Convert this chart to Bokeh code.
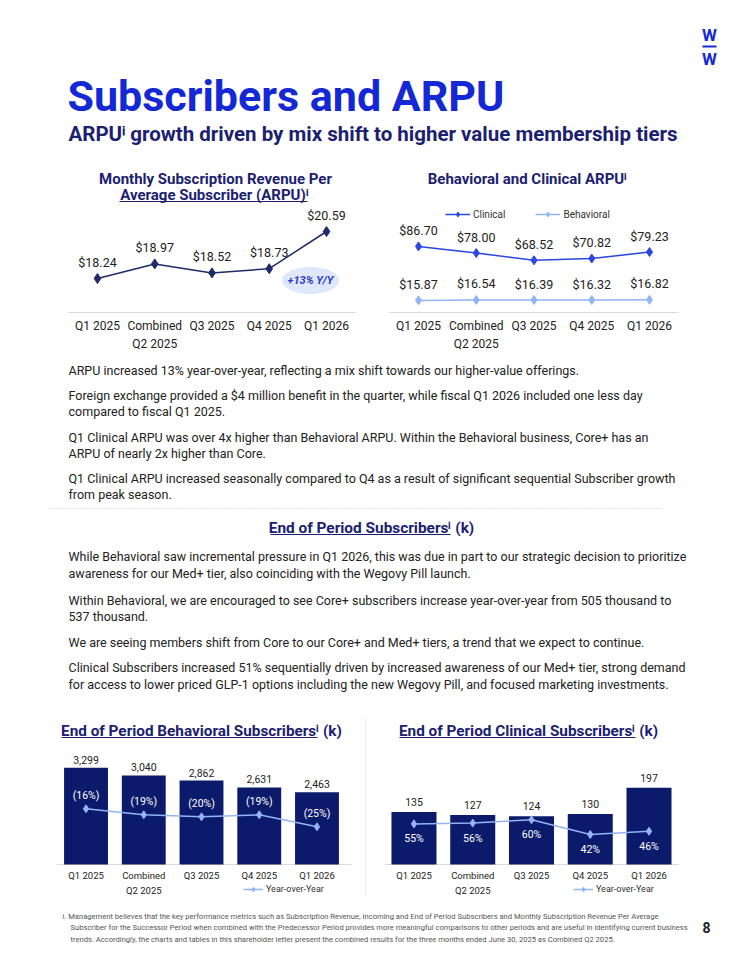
from bokeh.plotting import figure
from bokeh.layouts import column, row
from bokeh.models import Range1d, FixedTicker, Legend, LegendItem
from bokeh.core.properties import value
from bokeh.embed import file_html
from bokeh.resources import INLINE

FONT = "Roboto"
NAVY = "#1b2170"
BLUE = "#1428d6"
BAR = "#0c1a6b"
TXT = "#222222"
CLIN = "#2a46e0"
LIGHT = "#93b4f7"
LINE_NAVY = "#1f2a6b"

# ---------------- data ----------------
quarters = ["Q1 2025", "Combined\nQ2 2025", "Q3 2025", "Q4 2025", "Q1 2026"]
arpu = [18.24, 18.97, 18.52, 18.73, 20.59]
clinical_arpu = [86.70, 78.00, 68.52, 70.82, 79.23]
behavioral_arpu = [15.87, 16.54, 16.39, 16.32, 16.82]
behavioral_subs = [3299, 3040, 2862, 2631, 2463]
behavioral_yoy = [-16, -19, -20, -19, -25]
clinical_subs = [135, 127, 124, 130, 197]
clinical_yoy = [55, 56, 60, 42, 46]

idx = list(range(len(quarters)))

body1 = [
    "ARPU increased 13% year-over-year, reflecting a mix shift towards our higher-value offerings.",
    "Foreign exchange provided a $4 million benefit in the quarter, while fiscal Q1 2026 included one less day",
    "compared to fiscal Q1 2025.",
    "Q1 Clinical ARPU was over 4x higher than Behavioral ARPU. Within the Behavioral business, Core+ has an",
    "ARPU of nearly 2x higher than Core.",
    "Q1 Clinical ARPU increased seasonally compared to Q4 as a result of significant sequential Subscriber growth",
    "from peak season.",
]
body1_y = [370, 395, 411, 437, 453, 478, 494]
body2 = [
    "While Behavioral saw incremental pressure in Q1 2026, this was due in part to our strategic decision to prioritize",
    "awareness for our Med+ tier, also coinciding with the Wegovy Pill launch.",
    "Within Behavioral, we are encouraged to see Core+ subscribers increase year-over-year from 505 thousand to",
    "537 thousand.",
    "We are seeing members shift from Core to our Core+ and Med+ tiers, a trend that we expect to continue.",
    "Clinical Subscribers increased 51% sequentially driven by increased awareness of our Med+ tier, strong demand",
    "for access to lower priced GLP-1 options including the new Wegovy Pill, and focused marketing investments.",
]
body2_y = [556, 573, 600, 616, 642, 667, 684]
footnote = [
    "i. Management believes that the key performance metrics such as Subscription Revenue, Incoming and End of Period Subscribers and Monthly Subscription Revenue Per Average",
    "Subscriber for the Successor Period when combined with the Predecessor Period provides more meaningful comparisons to other periods and are useful in identifying current business",
    "trends. Accordingly, the charts and tables in this shareholder letter present the combined results for the three months ended June 30, 2025 as Combined Q2 2025.",
]


def txt(p, x, y, s, size, color=TXT, style="normal", align="left", baseline="middle", **kw):
    p.text(x=[x], y=[y], text=[s], text_font=value(FONT), text_font_size=value(f"{size}px"),
           text_color=color, text_font_style=style, text_align=align, text_baseline=baseline, **kw)


def page_fig(x0, x1, y0, y1):
    p = figure(width=int(x1 - x0), height=int(y1 - y0), x_range=Range1d(x0, x1), y_range=Range1d(y1, y0),
               output_backend="svg", toolbar_location=None, x_axis_location=None, y_axis_location=None,
               min_border=0, outline_line_color=None, background_fill_color="white",
               border_fill_color="white")
    p.grid.visible = False
    return p


def top_chart(px0, px1, py0, pybase, py1, xr, yr):
    p = figure(width=int(px1 - px0), height=int(py1 - py0), x_range=Range1d(*xr), y_range=Range1d(*yr),
               output_backend="svg", toolbar_location=None, y_axis_location=None,
               min_border_left=0, min_border_right=0, min_border_top=0,
               min_border_bottom=int(py1 - pybase), outline_line_color=None,
               background_fill_color="white", border_fill_color="white")
    p.extra_x_ranges = {"px": Range1d(px0, px1)}
    p.extra_y_ranges = {"px": Range1d(pybase, py0)}
    p.grid.visible = False
    ax = p.xaxis[0]
    ax.ticker = FixedTicker(ticks=idx)
    ax.major_label_overrides = {i: q for i, q in enumerate(quarters)}
    ax.bounds = (-0.5, 4.5)
    ax.axis_line_color = "#dadada"
    ax.axis_line_width = 1
    ax.major_tick_line_color = None
    ax.major_tick_out = 0
    ax.major_tick_in = 0
    ax.minor_tick_line_color = None
    ax.minor_tick_out = 0
    ax.major_label_text_font = FONT
    ax.major_label_text_font_size = "12px"
    ax.major_label_text_color = TXT
    ax.major_label_text_line_height = 1.3
    ax.major_label_standoff = 6
    return p


def bottom_chart(px0, px1, py0, py1, xr, yr, yoy_r, base_bounds):
    p = figure(width=int(px1 - px0), height=int(py1 - py0), x_range=Range1d(*xr), y_range=Range1d(*yr),
               output_backend="svg", toolbar_location=None, x_axis_location=None, y_axis_location=None,
               min_border=0, outline_line_color=None,
               background_fill_color="white", border_fill_color="white")
    p.extra_x_ranges = {"px": Range1d(px0, px1)}
    p.extra_y_ranges = {"px": Range1d(py1, py0), "yoy": Range1d(*yoy_r)}
    p.grid.visible = False
    # category baseline and category labels, placed through the x scale
    p.segment(x0=[base_bounds[0]], y0=[0], x1=[base_bounds[1]], y1=[0], line_color="#dadada", line_width=1)
    p.text(x=idx, y=[869] * len(idx), text=quarters, y_range_name="px", text_font=value(FONT),
           text_font_size=value("9.5px"), text_color=TXT, text_align="center", text_baseline="top",
           text_line_height=1.4)
    return p


def ptxt(p, x, y, s, size, color=NAVY, style="bold", align="left", baseline="middle"):
    txt(p, x, y, s, size, color=color, style=style, align=align, baseline=baseline,
        x_range_name="px", y_range_name="px")


def uline(p, x0, x1, y):
    p.segment(x0=[x0], y0=[y], x1=[x1], y1=[y], line_color=NAVY, line_width=1,
              x_range_name="px", y_range_name="px")


def yoy_legend(p, rends, x):
    leg = Legend(items=[LegendItem(label="Year-over-Year", renderers=rends)], location=(x, 10),
                 glyph_width=20, glyph_height=12, label_standoff=3, padding=0, margin=0,
                 border_line_color=None, background_fill_alpha=0, label_text_font=FONT,
                 label_text_font_size="9px", label_text_color="#333333", label_height=12)
    p.add_layout(leg)


# ---------------- header ----------------
hdr = page_fig(0, 742, 0, 160)
txt(hdr, 67, 95, "Subscribers and ARPU", 43, color=BLUE, style="bold")
txt(hdr, 68, 133, "ARPU\u2071 growth driven by mix shift to higher value membership tiers", 20.5,
    color=NAVY, style="bold")
txt(hdr, 709, 34, "W", 17, color=BLUE, style="bold", align="center")
hdr.segment(x0=[702], y0=[46], x1=[716], y1=[46], line_color=BLUE, line_width=2)
txt(hdr, 709, 58, "W", 17, color=BLUE, style="bold", align="center")

# ---------------- top-left chart: ARPU ----------------
c1 = top_chart(0, 380, 160, 312, 355, (-1.694, 4.943), (16.54, 24.14))
ptxt(c1, 215, 178, "Monthly Subscription Revenue Per", 15, align="center")
ptxt(c1, 214, 194, "Average Subscriber (ARPU)\u2071", 15, align="center")
uline(c1, 119, 307, 201)
c1.line(idx, arpu, line_color=LINE_NAVY, line_width=1.5)
c1.scatter(idx, arpu, marker="diamond", size=10, fill_color=LINE_NAVY, line_color=LINE_NAVY)
c1.text(idx, arpu, text=[f"${v:.2f}" for v in arpu], y_offset=-16, text_font=value(FONT),
        text_font_size=value("12.5px"), text_color=TXT, text_align="center", text_baseline="middle")
c1.ellipse(x=[310], y=[280], width=[57], height=[27], width_units="screen", height_units="screen",
           fill_color="#dfe7fb", line_color=None, x_range_name="px", y_range_name="px")
ptxt(c1, 310, 280, "+13% Y/Y", 11, color="#2a3bd0", style="bold italic", align="center")

# ---------------- top-right chart: clinical vs behavioral ARPU ----------------
c2 = top_chart(380, 742, 160, 312, 355, (-0.658, 5.610), (0, 199.4))
ptxt(c2, 527, 178, "Behavioral and Clinical ARPU\u2071", 15, align="center")
l_c = c2.line(idx, clinical_arpu, line_color=CLIN, line_width=1.5)
s_c = c2.scatter(idx, clinical_arpu, marker="diamond", size=9, fill_color=CLIN, line_color=CLIN)
l_b = c2.line(idx, behavioral_arpu, line_color=LIGHT, line_width=1.5)
s_b = c2.scatter(idx, behavioral_arpu, marker="diamond", size=9, fill_color=LIGHT, line_color=LIGHT)
for vals in (clinical_arpu, behavioral_arpu):
    c2.text(idx, vals, text=[f"${v:.2f}" for v in vals], y_offset=-16, text_font=value(FONT),
            text_font_size=value("12.5px"), text_color=TXT, text_align="center", text_baseline="middle")
leg2 = Legend(items=[LegendItem(label="Clinical", renderers=[l_c, s_c]),
                     LegendItem(label="Behavioral", renderers=[l_b, s_b])],
              location=(65, 92), orientation="horizontal", glyph_width=25, glyph_height=12,
              label_standoff=3, spacing=30, padding=0, margin=0, border_line_color=None,
              background_fill_alpha=0, label_text_font=FONT, label_text_font_size="10px",
              label_text_color="#333333", label_height=12)
c2.add_layout(leg2)

# ---------------- body text ----------------
mid = page_fig(0, 742, 355, 705)
for s, y in zip(body1, body1_y):
    txt(mid, 68, y, s, 12.5)
mid.segment(x0=[50], y0=[508], x1=[660], y1=[508], line_color="#c8c8c8", line_width=1, line_dash="1 2")
txt(mid, 371, 527, "End of Period Subscribers\u2071 (k)", 15.4, color=NAVY, style="bold", align="center")
mid.segment(x0=[270], y0=[534], x1=[450], y1=[534], line_color=NAVY, line_width=1)
for s, y in zip(body2, body2_y):
    txt(mid, 68, y, s, 12.5)

# ---------------- bottom-left chart: behavioral subscribers ----------------
c3 = bottom_chart(0, 362, 705, 905, (-1.481, 4.788), (-1399, 5425), (-64.35, 35.65), (-0.5, 4.6))
ptxt(c3, 201, 730, "End of Period Behavioral Subscribers\u2071 (k)", 15.3, align="center")
uline(c3, 61, 317, 737)
c3.vbar(x=idx, top=behavioral_subs, width=0.76, fill_color=BAR, line_color=None)
c3.text(idx, behavioral_subs, text=[f"{v:,}" for v in behavioral_subs], y_offset=-8,
        text_font=value(FONT), text_font_size=value("10.5px"), text_color=TXT,
        text_align="center", text_baseline="middle")
l3 = c3.line(idx, behavioral_yoy, y_range_name="yoy", line_color=LIGHT, line_width=1.5)
s3 = c3.scatter(idx, behavioral_yoy, y_range_name="yoy", marker="diamond", size=8,
                fill_color=LIGHT, line_color=LIGHT)
c3.text(idx, behavioral_yoy, text=[f"({abs(v)}%)" for v in behavioral_yoy], y_offset=-13,
        y_range_name="yoy", text_font=value(FONT), text_font_size=value("10.5px"),
        text_color="white", text_align="center", text_baseline="middle")
yoy_legend(c3, [l3, s3], 243)

sep = page_fig(362, 368, 705, 905)
sep.segment(x0=[365], y0=[717], x1=[365], y1=[895], line_color="#cfcfcf", line_width=1, line_dash="1 2")

# ---------------- bottom-right chart: clinical subscribers ----------------
c4 = bottom_chart(368, 742, 705, 905, (-0.774, 5.591), (-105.3, 408.4), (-44.9, 199.9), (-0.5, 4.5))
ptxt(c4, 528, 730, "End of Period Clinical Subscribers\u2071 (k)", 15.3, align="center")
uline(c4, 399, 635, 737)
c4.vbar(x=idx, top=clinical_subs, width=0.766, fill_color=BAR, line_color=None)
c4.text(idx, clinical_subs, text=[f"{v:,}" for v in clinical_subs], y_offset=-10,
        text_font=value(FONT), text_font_size=value("10.5px"), text_color=TXT,
        text_align="center", text_baseline="middle")
l4 = c4.line(idx, clinical_yoy, y_range_name="yoy", line_color=LIGHT, line_width=1.5)
s4 = c4.scatter(idx, clinical_yoy, y_range_name="yoy", marker="diamond", size=8,
                fill_color=LIGHT, line_color=LIGHT)
c4.text(idx, clinical_yoy, text=[f"{v}%" for v in clinical_yoy], y_offset=15,
        y_range_name="yoy", text_font=value(FONT), text_font_size=value("10.5px"),
        text_color="white", text_align="center", text_baseline="middle")
yoy_legend(c4, [l4, s4], 205)

# ---------------- footnote ----------------
ft = page_fig(0, 742, 905, 958)
txt(ft, 62, 916, footnote[0], 7.6, color="#555555")
txt(ft, 70, 927, footnote[1], 7.6, color="#555555")
txt(ft, 70, 939, footnote[2], 7.6, color="#555555")
txt(ft, 706, 927, "8", 14, color=TXT, style="bold", align="center")

layout = column(
    hdr,
    row(c1, c2, spacing=0),
    mid,
    row(c3, sep, c4, spacing=0),
    ft,
    spacing=0,
)

open("out.html", "w").write(file_html(layout, INLINE))
